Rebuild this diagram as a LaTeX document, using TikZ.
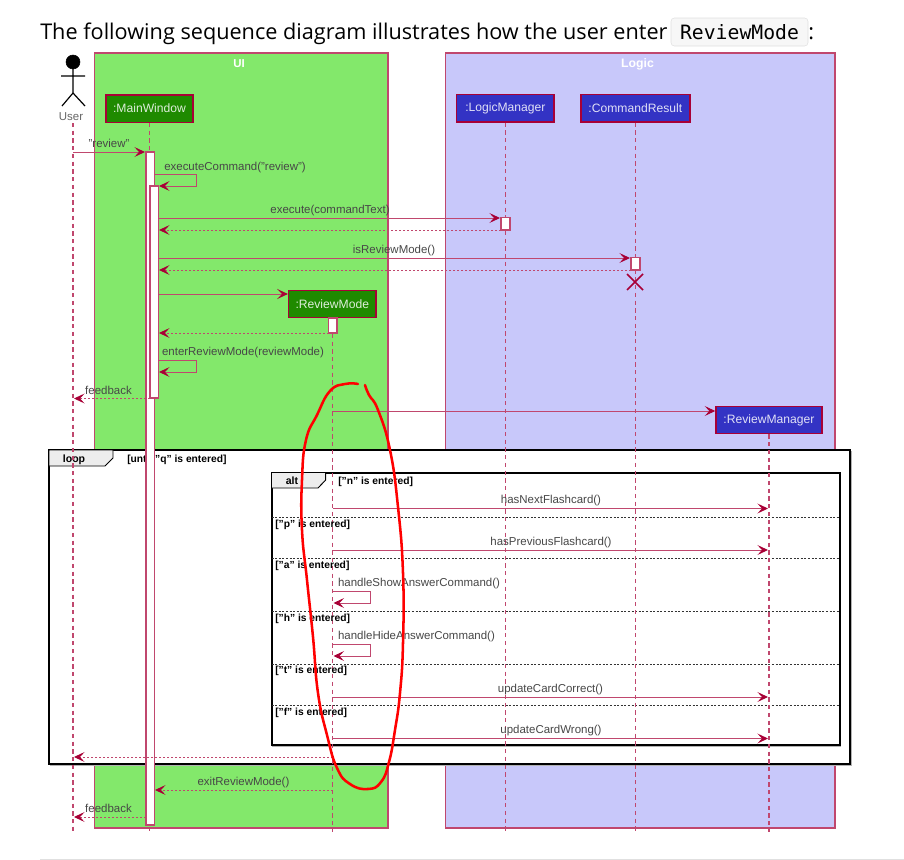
\documentclass[tikz,border=0pt]{standalone}
\usepackage{fontspec}
\setmainfont{Liberation Sans}
\newfontfamily\titlefont{Open Sans}
\newfontfamily\codefont{DejaVu Sans Mono}
\usetikzlibrary{arrows.meta}
\definecolor{umlline}{RGB}{168,0,54}
\definecolor{uigreen}{RGB}{131,232,107}
\definecolor{logicblue}{RGB}{200,200,250}
\definecolor{boxgreen}{RGB}{31,138,0}
\definecolor{boxblue}{RGB}{51,51,196}
\tikzset{
  frame/.style={draw=umlline!72,line width=0.8pt},
  greenbox/.style={draw=umlline,fill=boxgreen,line width=1.1pt,inner sep=0pt,text=white,text opacity=0.85,font=\fontsize{9.1}{11}\selectfont,minimum height=20.6pt},
  bluebox/.style={draw=umlline,fill=boxblue,line width=1.1pt,inner sep=0pt,text=white,text opacity=0.85,font=\fontsize{9.1}{11}\selectfont,minimum height=20.6pt},
  lifeline/.style={draw=umlline!72,line width=0.85pt,dash pattern=on 3.2pt off 2.6pt},
  actbar/.style={draw=umlline!72,fill=white,line width=0.9pt},
  msg/.style={draw=umlline!72,line width=0.72pt,-{Stealth[length=8pt,width=7.5pt,inset=3.6pt,color=umlline]}},
  ret/.style={msg,dash pattern=on 1.5pt off 1.5pt},
  txt/.style={inner sep=0pt,anchor=base,text=black!72,font=\fontsize{8.6}{10}\selectfont},
  guard/.style={inner sep=0pt,anchor=base west,font=\fontsize{7.7}{9}\selectfont\bfseries},
  combined/.style={draw=black,fill=white,line width=1.5pt},
  tab/.style={draw=black,fill=black!7,line width=0.7pt},
  sep/.style={draw=black!80,line width=0.6pt,dash pattern=on 1.5pt off 1.2pt},
}
\begin{document}
\begin{tikzpicture}[x=0.75pt,y=0.75pt,yscale=-1,xscale=1]
\useasboundingbox (0,0) rectangle (904,860);

%Heading
\node (headtext) [inner sep=0pt,anchor=base west,font=\titlefont\fontsize{16.25}{20}\selectfont] at (40,39.5) {The following sequence diagram illustrates how the user enter};
\draw [draw=black!12,fill=black!3,rounded corners=2.5pt] (671,18) rectangle (808,46);
\node (headcode) [inner sep=0pt,anchor=base,font=\codefont\fontsize{14.8}{17}\selectfont] at (739.5,39) {ReviewMode};
\node (headcolon) [inner sep=0pt,anchor=base west,font=\titlefont\fontsize{16.25}{20}\selectfont] at (808,39.5) {:};
\draw [draw=black!12,line width=0.8pt] (40,859.5) -- (904,859.5);

%Frames
\draw [frame,fill=uigreen] (94.5,53) rectangle (388,828);
\draw [frame,fill=logicblue] (445.5,53) rectangle (835,828);
\node (uititle) [inner sep=0pt,anchor=base,text=white,font=\fontsize{8.6}{10}\selectfont\bfseries] at (239,67) {UI};
\node (logictitle) [inner sep=0pt,anchor=base,text=white,font=\fontsize{9.2}{10}\selectfont\bfseries] at (637.5,67) {Logic};

%Participants
\node (mainwindow) [greenbox,minimum width=65.3pt] at (149.5,108.5) {:MainWindow};
\node (logicmanager) [bluebox,minimum width=73pt] at (505.4,108.2) {:LogicManager};
\node (commandresult) [bluebox,minimum width=81.7pt] at (635.3,108.2) {:CommandResult};
\node (reviewmode) [greenbox,minimum width=65.5pt] at (332.3,304) {:ReviewMode};
\node (reviewmanager) [bluebox,minimum width=79.5pt] at (769,420) {:ReviewManager};

%Actor
\draw [fill=black] (73,62) circle [radius=7];
\draw [line width=0.9pt] (73,69) -- (73,93) (61,76) -- (85,76) (62,106) -- (73,93) -- (85,106);
\node (user) [txt,text=black!60] at (71,120) {User};

%Combined fragments
\draw [black!30,line width=1pt] (50.5,451.5) rectangle (851,765.5);
\draw [combined] (49,450) rectangle (849.5,764);
\draw [tab] (49,450) -- (113,450) -- (113,458) -- (105,466) -- (49,466) -- cycle;
\node (looplabel) [inner sep=0pt,anchor=base,font=\fontsize{7.9}{9}\selectfont\bfseries] at (74,462.5) {loop};
\node (loopguard) [guard] at (127,462) {[until "q" is entered]};
\draw [black!30,line width=1pt] (272.7,473.7) rectangle (840.7,746.5);
\draw [combined] (271.5,472.5) rectangle (839.5,745);
\draw [tab] (271.5,472.5) -- (325.7,472.5) -- (325.7,480) -- (318,488) -- (271.5,488) -- cycle;
\node (altlabel) [inner sep=0pt,anchor=base,font=\fontsize{7.9}{9}\selectfont\bfseries] at (292,484.5) {alt};
\foreach \sepy in {517.3,558.7,611.3,664,705.7}
  \draw [sep] (271.5,\sepy) -- (839.5,\sepy);

%Lifelines
\coordinate (lifeend) at (0,832);
\coordinate (userlife) at (73,123);
\draw [lifeline] (userlife) -- (userlife |- lifeend);
\foreach \who in {mainwindow,logicmanager,commandresult,reviewmode,reviewmanager}
  \draw [lifeline] (\who.south) -- (\who.south |- lifeend);

%Activations
\draw [actbar] (146,152) rectangle (154.5,825);
\draw [actbar] (150,186) rectangle (158.5,398);
\draw [actbar] (501,217.5) rectangle (510,230);
\draw [actbar] (631,257.5) rectangle (640,270);
\draw [actbar] (328.5,318) rectangle (337,333);

%Destroy mark
\coordinate (xa) at (627,274);
\coordinate (xb) at (643,290);
\coordinate (xc) at (643,274);
\coordinate (xd) at (627,290);
\draw [draw=umlline,line width=1.1pt] (xa) -- (xb) (xc) -- (xd);

%Named ends of the messages
\coordinate (m1a) at (73,152);      \coordinate (m1b) at (145,152);
\coordinate (m2a) at (154.5,174);   \coordinate (m2b) at (196,174);    \coordinate (m2c) at (159,186);
\coordinate (m3a) at (158.5,218);   \coordinate (m3b) at (500,218);
\coordinate (m4a) at (501,230);     \coordinate (m4b) at (159,230);
\coordinate (m5a) at (158.5,258);   \coordinate (m5b) at (630,258);
\coordinate (m6a) at (631,270);     \coordinate (m6b) at (159,270);
\coordinate (m7a) at (158.5,294);
\coordinate (m8a) at (328.5,333);   \coordinate (m8b) at (159,333);
\coordinate (m9a) at (158.5,360);   \coordinate (m9b) at (196,360);    \coordinate (m9c) at (159,372);
\coordinate (m10a) at (150,398.5);  \coordinate (m10b) at (74,398.5);
\coordinate (m11a) at (333,411);
\coordinate (m12a) at (333,508.5);  \coordinate (m12b) at (768,508.5);
\coordinate (m13a) at (333,550);    \coordinate (m13b) at (768,550);
\coordinate (m14a) at (333,591);    \coordinate (m14b) at (370,591);   \coordinate (m14c) at (333.5,603);
\coordinate (m15a) at (333,644);    \coordinate (m15b) at (370,644);   \coordinate (m15c) at (333.5,656);
\coordinate (m16a) at (333,697);    \coordinate (m16b) at (768,697);
\coordinate (m17a) at (333,738.5);  \coordinate (m17b) at (768,738.5);
\coordinate (m18a) at (333,757);    \coordinate (m18b) at (74,757);
\coordinate (m19a) at (333,790);    \coordinate (m19b) at (155,790);
\coordinate (m20a) at (146,817);    \coordinate (m20b) at (74,817);

%Messages
\draw [msg] (m1a) -- (m1b);
\draw [msg] (m2a) -- (m2b) |- (m2c);
\draw [msg] (m3a) -- (m3b);
\draw [ret] (m4a) -- (m4b);
\draw [msg] (m5a) -- (m5b);
\draw [ret] (m6a) -- (m6b);
\draw [msg] (m7a) -- (reviewmode.west |- m7a);
\draw [ret] (m8a) -- (m8b);
\draw [msg] (m9a) -- (m9b) |- (m9c);
\draw [ret] (m10a) -- (m10b);
\draw [msg] (m11a) -- (reviewmanager.west |- m11a);
\draw [msg] (m12a) -- (m12b);
\draw [msg] (m13a) -- (m13b);
\draw [msg] (m14a) -- (m14b) |- (m14c);
\draw [msg] (m15a) -- (m15b) |- (m15c);
\draw [msg] (m16a) -- (m16b);
\draw [msg] (m17a) -- (m17b);
\draw [ret] (m18a) -- (m18b);
\draw [ret] (m19a) -- (m19b);
\draw [ret] (m20a) -- (m20b);

%Message text
\node (t1) [txt] at (109,147.5) {"review"};
\node (t2) [txt] at (235,170) {executeCommand("review")};
\node (t3) [txt] at (330,213.5) {execute(commandText)};
\node (t4) [txt] at (394,253.5) {isReviewMode()};
\node (t5) [txt] at (243,355.5) {enterReviewMode(reviewMode)};
\node (t6) [txt] at (108.5,394) {feedback};
\node (t7) [txt] at (551,503.5) {hasNextFlashcard()};
\node (t8) [txt] at (551,545) {hasPreviousFlashcard()};
\node (t9) [txt] at (419,586.5) {handleShowAnswerCommand()};
\node (t10) [txt] at (416.5,639.5) {handleHideAnswerCommand()};
\node (t11) [txt] at (550.5,692) {updateCardCorrect()};
\node (t12) [txt] at (551,733.5) {updateCardWrong()};
\node (t13) [txt] at (243.5,785) {exitReviewMode()};
\node (t14) [txt] at (108.5,812.5) {feedback};

%Guards
\node (g1) [guard] at (338,484.5) {["n" is entered]};
\node (g2) [guard] at (275,527) {["p" is entered]};
\node (g3) [guard] at (275,568.5) {["a" is entered]};
\node (g4) [guard] at (275,621) {["h" is entered]};
\node (g5) [guard] at (275,673.5) {["t" is entered]};
\node (g6) [guard] at (275,715) {["f" is entered]};

%Hand drawn loop
\draw [red,line width=1.9pt,line cap=round] plot [smooth,tension=0.8] coordinates {(358,384) (345,384) (330,391) (317,415) (306,440) (302,480) (302,530) (307,580) (313,637) (318,693) (327,735) (337,768) (350,784) (368,789) (381,782) (389,762) (395,730) (400,693) (403,643) (403,573) (398,507) (390,450) (378,410) (369,395) (365,385)};

\end{tikzpicture}
\end{document}
